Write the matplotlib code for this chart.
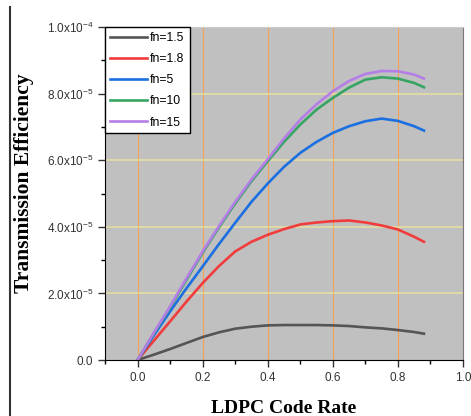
import matplotlib
matplotlib.use('Agg')
import matplotlib.pyplot as plt
from matplotlib.lines import Line2D

# --- Data ---
rate = [0.0, 0.05, 0.1, 0.15, 0.2, 0.25, 0.3, 0.35, 0.4, 0.45, 0.5,
        0.55, 0.6, 0.65, 0.7, 0.75, 0.8, 0.85, 0.88]
eff_1_5 = [0.0, 0.16, 0.33, 0.51, 0.69, 0.83, 0.94, 1.00, 1.04, 1.05, 1.05,
           1.05, 1.04, 1.02, 0.98, 0.95, 0.90, 0.84, 0.79]
eff_1_8 = [0.0, 0.58, 1.16, 1.75, 2.31, 2.82, 3.26, 3.55, 3.76, 3.93, 4.07,
           4.13, 4.17, 4.19, 4.13, 4.04, 3.92, 3.70, 3.55]
eff_5 = [0.0, 0.74, 1.46, 2.15, 2.81, 3.48, 4.12, 4.75, 5.30, 5.80, 6.22,
         6.55, 6.82, 7.02, 7.17, 7.25, 7.18, 7.02, 6.89]
eff_10 = [0.0, 0.80, 1.58, 2.40, 3.22, 3.98, 4.70, 5.37, 5.97, 6.55, 7.07,
          7.52, 7.87, 8.18, 8.42, 8.49, 8.45, 8.32, 8.19]
eff_15 = [0.0, 0.82, 1.61, 2.45, 3.26, 4.02, 4.75, 5.42, 6.03, 6.65, 7.22,
          7.68, 8.07, 8.38, 8.59, 8.68, 8.67, 8.57, 8.45]

series = [
    ('fn=1.5', eff_1_5, '#555555'),
    ('fn=1.8', eff_1_8, '#f03c3c'),
    ('fn=5', eff_5, '#1c6fe0'),
    ('fn=10', eff_10, '#36a563'),
    ('fn=15', eff_15, '#b47ee6'),
]

xticks = [0.0, 0.2, 0.4, 0.6, 0.8, 1.0]
yticks = [0.0, 2e-5, 4e-5, 6e-5, 8e-5, 1e-4]
ytick_labels = ['0.0', r'2.0x10$^{-5}$', r'4.0x10$^{-5}$', r'6.0x10$^{-5}$',
                r'8.0x10$^{-5}$', r'1.0x10$^{-4}$']

plt.rcParams['font.family'] = 'Liberation Sans'
plt.rcParams['mathtext.fontset'] = 'custom'
plt.rcParams['mathtext.rm'] = 'Liberation Sans'
plt.rcParams['mathtext.it'] = 'Liberation Sans'
plt.rcParams['mathtext.default'] = 'regular'

fig = plt.figure(figsize=(4.71, 4.16), dpi=100)
ax = fig.add_axes([0.223, 0.1346, 0.760, 0.8005])
ax.set_facecolor('#c0c0c0')

for label, vals, color in series:
    ax.plot(rate, [v * 1e-5 for v in vals], color=color, lw=1.9, label=label)

ax.set_xlim(-0.1, 1.0)
ax.set_ylim(0, 1e-4)
ax.set_xticks(xticks)
ax.set_xticklabels(['%.1f' % t for t in xticks])
ax.set_xticks([-0.1, 0.1, 0.3, 0.5, 0.7, 0.9], minor=True)
ax.set_yticks(yticks)
ax.set_yticklabels(ytick_labels)
ax.set_yticks([1e-5, 3e-5, 5e-5, 7e-5, 9e-5], minor=True)
ax.tick_params(labelsize=8.5, colors='#333333', length=5, width=1)
ax.tick_params(which='minor', length=3, width=1)

# grid lines, snapped so they stay crisp
for t in xticks[:-1]:
    ax.axvline(t, color='#f5a055', lw=0.8, zorder=0.5, snap=True)
for t in yticks[1:-1]:
    ax.axhline(t, color='#e8e0a0', lw=1.1, zorder=0.5, snap=True)

ax.spines['top'].set_color('#cccccc')
ax.spines['right'].set_color('#777777')
ax.spines['left'].set_color('black')
ax.spines['bottom'].set_color('black')

ax.set_xlabel('LDPC Code Rate', family='Liberation Serif', weight='bold',
              fontsize=14, labelpad=12)
ax.set_ylabel('Transmission Efficiency', family='Liberation Serif',
              weight='bold', fontsize=15.5)
ax.yaxis.set_label_coords(-0.198, 0.53)

leg = ax.legend(loc='upper left', borderaxespad=0, fontsize=8.8,
                handlelength=3.0, handletextpad=0.3, labelspacing=0.75,
                fancybox=False, framealpha=1, borderpad=0.4)
leg.get_frame().set_edgecolor('black')
leg.get_frame().set_linewidth(1)

fig.add_artist(Line2D([10 / 471, 10 / 471], [0, 1 - 7 / 416],
                      color='#333333', lw=1.5))

fig.savefig('out.png', dpi=100)
